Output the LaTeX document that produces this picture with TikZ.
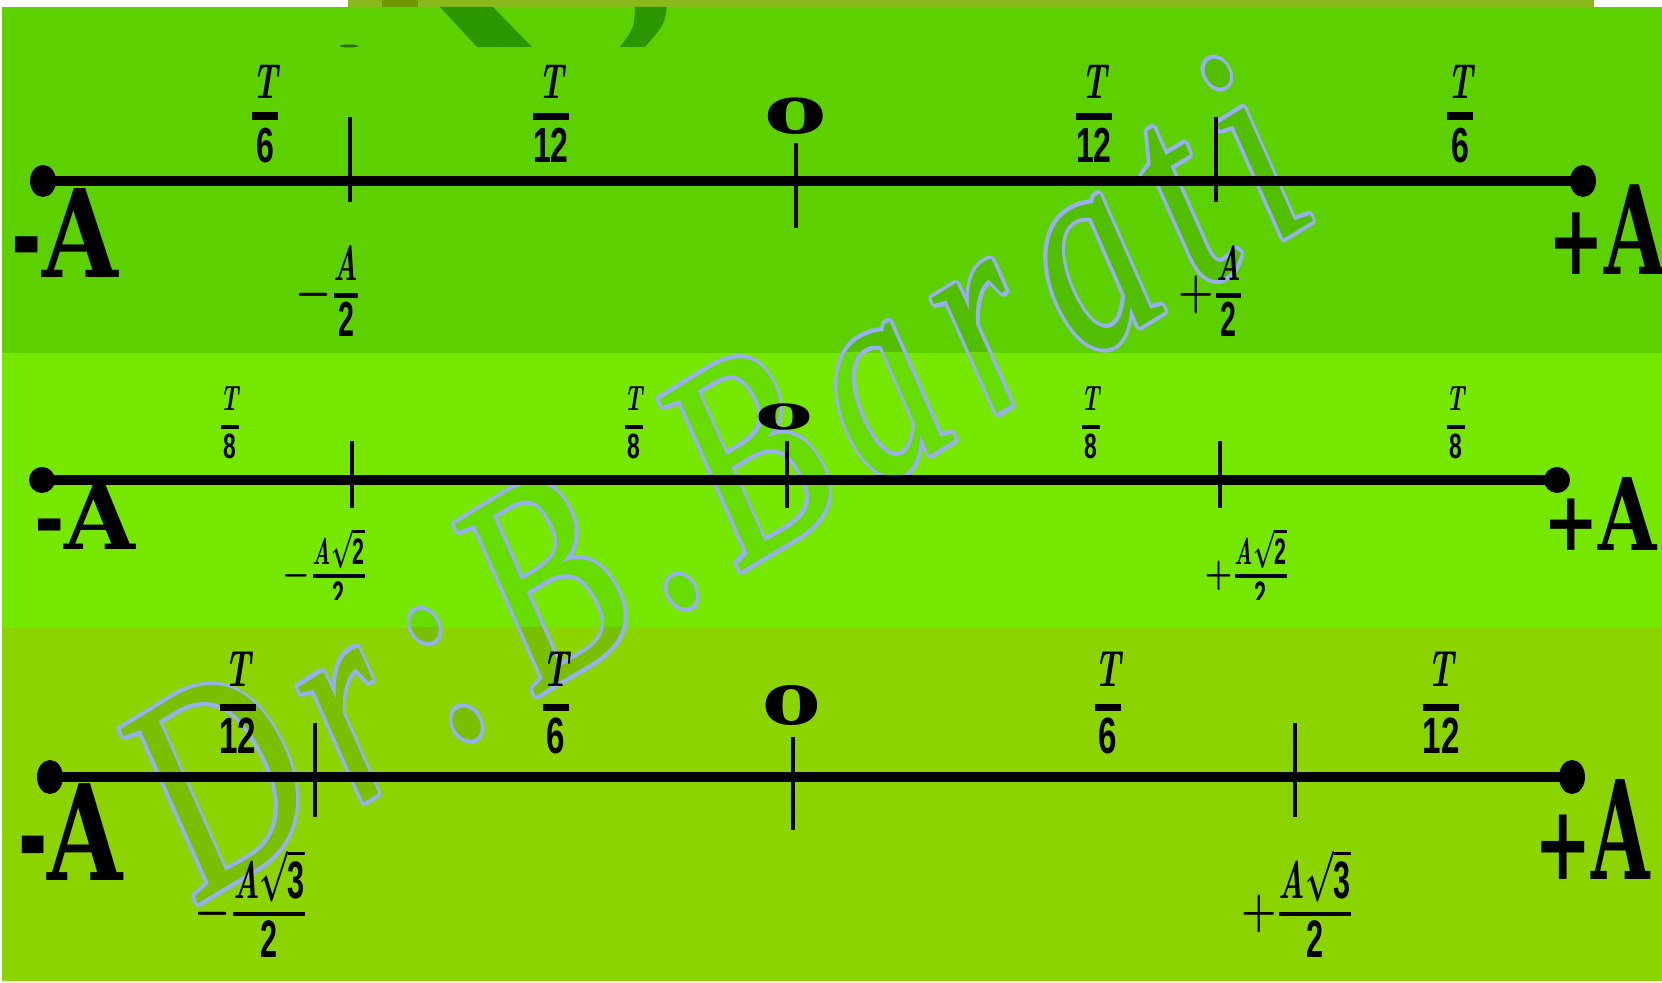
\documentclass[tikz,border=0pt]{standalone}
\usepackage{amsmath}
\usepackage{graphicx}
\usepackage{fontspec}
\newfontfamily\Afont{DejaVu Serif}
\newfontfamily\dgfont{Liberation Sans}
\newfontfamily\wmfont{Liberation Serif}[LetterSpace=12]
\usetikzlibrary{positioning,shapes.geometric}

\definecolor{bandA}{RGB}{93,208,0}
\definecolor{bandB}{RGB}{118,232,0}
\definecolor{bandC}{RGB}{140,212,0}
\definecolor{wmA}{RGB}{82,190,0}
\definecolor{wmB}{RGB}{103,220,0}
\definecolor{wmC}{RGB}{120,192,0}
\definecolor{wmline}{RGB}{152,176,242}
\definecolor{olive}{RGB}{138,185,27}
\definecolor{oliveD}{RGB}{112,154,0}
\definecolor{logoG}{RGB}{42,150,0}

\newcommand{\bT}{\text{\bfseries\itshape T}}
\newcommand{\bA}{\text{\bfseries\itshape A}}
\newcommand{\dg}[1]{\text{\dgfont\bfseries #1}}
% fraction: rule, lift, numerator, denominator
\newcommand{\fr}[4]{\scalebox{0.65}[1]{\boldmath$\genfrac{}{}{#1}{1}{\raisebox{#2}{$#3$}}{\raisebox{-#2}{$#4$}}$}}
% signed fraction: sign, rule, lift, numerator, denominator
\newcommand{\sfr}[5]{\scalebox{0.8}[1]{\boldmath$#1$}\scalebox{0.58}[1]{\boldmath$\genfrac{}{}{#2}{1}{\raisebox{#3}{$#4$}}{\raisebox{-#3}{$#5$}}$}}
% end label: size, sign, sign x/y scale, A x scale
\newcommand{\bigA}[5]{\fontsize{#1}{#1}\selectfont\scalebox{#3}[#4]{#2}\scalebox{#5}[1]{A}}
\newcommand{\zero}[2]{\fontsize{#1}{#1}\selectfont\scalebox{#2}[1]{o}}
\newcommand{\wmtext}{Dr:B.Barati}

\begin{document}
\begin{tikzpicture}[x=0.01cm, y=-0.01cm,
  axisline/.style={line width=2.6pt},
  tickmark/.style={line width=0.9pt},
  enddot/.style={ellipse, fill=black, inner sep=0pt, minimum width=0.26cm, minimum height=#1},
  enddot/.default=0.32cm,
  lbl/.style={inner sep=0pt, outer sep=0pt},
  endlbl/.style={lbl, font=\Afont\bfseries},
  olbl/.style={lbl, font=\Afont\bfseries},
  wmark/.style={lbl, anchor=base west, font=\wmfont\itshape\fontsize{82}{82}\selectfont,
    rotate=31.5, xscale=0.755},
]
  \useasboundingbox (0,0) rectangle (1662,983);

  % Background bands
  \fill[white] (0,0) rectangle (1662,983);
  \fill[olive] (348,0) rectangle (1594,7);
  \fill[oliveD] (382,0) rectangle (418,7);
  \fill[bandA] (2,7) rectangle (1662,353);
  \fill[bandB] (2,353) rectangle (1662,628);
  \fill[bandC] (2,628) rectangle (1662,981);

  % Logo remnants at the top
  \fill[logoG] (440,7) -- (493,7) -- (532,47) -- (477,47) -- cycle;
  \fill[logoG] (635,7) -- (667,7) .. controls (664,25) .. (645,47)
    -- (620,47) .. controls (634,28) .. (635,7) -- cycle;
  \fill[black, opacity=0.5] (349,46) ellipse (0.09cm and 0.015cm);

  % Watermark: outline ring, then fill per band
  \coordinate (wmpos) at (200,903);
  \foreach \a [count=\k] in {0,22.5,...,337.5}
    \node[wmark, text=wmline, shift={(\a:1.2pt)}] (wmo\k) at (wmpos) {\wmtext};
  \begin{scope}
    \clip (2,7) rectangle (1662,353);
    \node[wmark, text=wmA] (wma) at (wmpos) {\wmtext};
  \end{scope}
  \begin{scope}
    \clip (2,353) rectangle (1662,628);
    \node[wmark, text=wmB] (wmb) at (wmpos) {\wmtext};
  \end{scope}
  \begin{scope}
    \clip (2,628) rectangle (1662,981);
    \node[wmark, text=wmC] (wmc) at (wmpos) {\wmtext};
  \end{scope}

  % Band 1: T/6, T/12
  \node[enddot] (la) at (43,181) {};
  \node[enddot] (ra) at (1583,181) {};
  \draw[axisline] (la.center) -- (ra.center);
  \foreach \x/\ya/\yb in {350/117/202, 796/143/228, 1216/117/202}
    \draw[tickmark] (\x,\ya) -- (\x,\yb);
  \foreach \x/\d [count=\i] in {265/6, 551/12, 1094/12, 1460/6}
    \node[lbl, font=\fontsize{14}{16}\selectfont] (ta\i) at (\x,114) {\fr{2.2pt}{1.8pt}{\bT}{\dg{\d}}};
  \node[olbl] (oa) at (796,116) {\zero{19}{1.4}};
  \node[endlbl] (ma) at (65,233) {\bigA{34.7}{-}{0.6}{1}{0.8}};
  \node[endlbl] (pa) at (1607,230) {\bigA{35}{+}{0.54}{0.8}{0.64}};
  \node[lbl, font=\fontsize{14}{16}\selectfont] (xa1) at (328,291) {\sfr{-}{1.4pt}{1.8pt}{\bA}{\dg{2}}};
  \node[lbl, font=\fontsize{14}{16}\selectfont] (xa2) at (1211,291) {\sfr{+}{1.4pt}{1.8pt}{\bA}{\dg{2}}};

  % Band 2: T/8
  \node[enddot=0.26cm] (lb) at (42,480) {};
  \node[enddot=0.26cm] (rb) at (1557,480) {};
  \draw[axisline] (lb.center) -- (rb.center);
  \foreach \x in {352, 787, 1220}
    \draw[tickmark] (\x,441) -- (\x,508);
  \foreach \x [count=\i] in {230, 634, 1091, 1456}
    \node[lbl, font=\fontsize{10}{12}\selectfont] (tb\i) at (\x,423) {\fr{1.2pt}{2.8pt}{\bT}{\dg{8}}};
  \node[olbl] (ob) at (784,417) {\zero{13.7}{1.8}};
  \node[endlbl] (mb) at (85,516) {\bigA{26}{-}{0.8}{1}{1.0}};
  \node[endlbl] (pb) at (1600,514) {\bigA{28.5}{+}{0.66}{0.82}{0.75}};
  \begin{scope}
    \clip (0,0) rectangle (1662,600);
    \node[lbl, font=\fontsize{10.5}{12}\selectfont] (xb1) at (325,568) {\sfr{-}{1.2pt}{1.3pt}{\bA\sqrt{\dg{2}}}{\dg{2}}};
    \node[lbl, font=\fontsize{10.5}{12}\selectfont] (xb2) at (1247,568) {\sfr{+}{1.2pt}{1.3pt}{\bA\sqrt{\dg{2}}}{\dg{2}}};
  \end{scope}

  % Band 3: T/12, T/6
  \node[enddot=0.34cm] (lc) at (50,777) {};
  \node[enddot=0.34cm] (rc) at (1572,777) {};
  \draw[axisline] (lc.center) -- (rc.center);
  \foreach \x/\ya/\yb in {315/723/817, 793/737/830, 1295/723/817}
    \draw[tickmark] (\x,\ya) -- (\x,\yb);
  \foreach \x/\d [count=\i] in {238/12, 556/6, 1108/6, 1441/12}
    \node[lbl, font=\fontsize{14.5}{16}\selectfont] (tc\i) at (\x,703) {\fr{2pt}{3pt}{\bT}{\dg{\d}}};
  \node[olbl] (oc) at (792,706) {\zero{20.8}{1.2}};
  \node[endlbl] (mc) at (71,832) {\bigA{37.8}{-}{0.53}{1}{0.73}};
  \node[endlbl] (pc) at (1592,830) {\bigA{39}{+}{0.5}{0.75}{0.55}};
  \node[lbl, font=\fontsize{15}{17}\selectfont] (xc1) at (251,903) {\sfr{-}{1.2pt}{2pt}{\bA\sqrt{\dg{3}}}{\dg{2}}};
  \node[lbl, font=\fontsize{15}{17}\selectfont] (xc2) at (1297,903) {\sfr{+}{1.2pt}{2pt}{\bA\sqrt{\dg{3}}}{\dg{2}}};
\end{tikzpicture}
\end{document}
